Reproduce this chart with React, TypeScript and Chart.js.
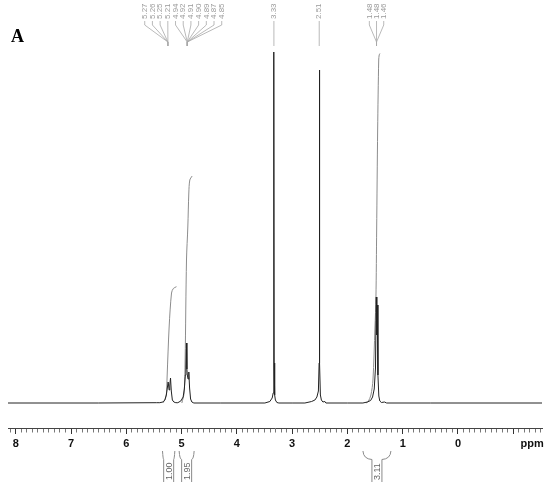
import React, { useEffect, useRef } from 'react';
import { Chart, registerables } from 'chart.js';

Chart.register(...registerables);

// ---- axis range (ppm, reversed) ----
const PPM_MAX = 8.14;
const PPM_MIN = -1.52;

// ---- spectrum, [ppm, intensity] ----
const baselineLeft: number[][] = [[8.14, 0], [6.5, 0], [5.45, 0.3]];
const peakH5: number[][] = [
  [5.394, 0.3], [5.339, 1], [5.303, 3], [5.276, 8], [5.258, 15], [5.243, 21],
  [5.225, 13], [5.213, 18], [5.2, 25], [5.186, 12], [5.167, 3], [5.14, 1], [5.104, 0.3],
];
const peakH4: number[][] = [
  [5.068, 0.3], [5.014, 2], [4.972, 6], [4.95, 14], [4.932, 28], [4.922, 36],
  [4.912, 60], [4.904, 34], [4.896, 28], [4.883, 24], [4.869, 31], [4.855, 15], [4.837, 4],
  [4.814, 1], [4.778, 0],
];
const baselineMid1: number[][] = [[4.3, 0], [3.6, 0]];
const peakWater: number[][] = [
  [3.493, 0], [3.403, 1.5], [3.361, 5], [3.343, 10], [3.334, 40], [3.33, 351],
  [3.325, 40], [3.316, 8], [3.303, 3], [3.276, 0.5], [3.24, 0],
];
const baselineMid2: number[][] = [[3.0, 0]];
const peakDmso: number[][] = [
  [2.769, 0], [2.648, 1.5], [2.588, 3], [2.552, 6], [2.525, 12], [2.512, 40],
  [2.507, 333], [2.501, 40], [2.489, 8], [2.471, 3], [2.443, 1], [2.407, 1.5], [2.389, 0],
];
const baselineMid3: number[][] = [[2.0, 0]];
const peakMe: number[][] = [
  [1.72, 0], [1.64, 1], [1.58, 2.5], [1.545, 6], [1.515, 14], [1.492, 35],
  [1.478, 106], [1.468, 68], [1.46, 98], [1.448, 28], [1.432, 7], [1.414, 2],
  [1.385, 0.5], [1.33, 1], [1.29, 0],
];
const baselineRight: number[][] = [[0.5, 0], [-1.52, 0]];

// ---- integral curves, [ppm, height] ----
const integral1: number[][] = [
  [5.339, 0], [5.294, 4], [5.273, 10], [5.262, 26], [5.225, 76], [5.182, 110],
  [5.149, 114.5], [5.092, 116.3],
];
const integral2: number[][] = [
  [4.995, 0], [4.954, 10], [4.936, 43], [4.911, 143], [4.887, 176], [4.869, 210],
  [4.851, 223], [4.809, 227],
];
const integral3: number[][] = [
  [1.665, 0], [1.624, 1.5], [1.575, 8], [1.538, 23], [1.502, 75], [1.484, 106],
  [1.471, 173], [1.453, 273], [1.434, 343], [1.425, 348], [1.412, 349.5],
];

// ---- peak labels (top) ----
const peakLabelsA: string[] = ['5.27', '5.26', '5.25', '5.21'];
const peakLabelsB: string[] = ['4.94', '4.92', '4.91', '4.90', '4.89', '4.87', '4.85'];
const peakLabelsC: string[] = ['3.33'];
const peakLabelsD: string[] = ['2.51'];
const peakLabelsE: string[] = ['1.48', '1.48', '1.46'];

// ---- integrals (bottom) ----
const integralRanges: number[][] = [[5.345, 5.122], [5.044, 4.773], [1.719, 1.213]];
const integralValues: string[] = ['1.00', '1.95', '3.11'];

const panelLetter = 'A';
const axisUnit = 'ppm';

const toXY = (arr: number[][]) => arr.map(([x, y]) => ({ x, y }));

const spectrum = [
  ...baselineLeft, ...peakH5, ...peakH4, ...baselineMid1, ...peakWater,
  ...baselineMid2, ...peakDmso, ...baselineMid3, ...peakMe, ...baselineRight,
];

const mean = (a: string[]) => a.reduce((s, v) => s + parseFloat(v), 0) / a.length;

const annotationPlugin = {
  id: 'nmrAnnotations',
  afterDraw(chart: any) {
    const ctx = chart.ctx as CanvasRenderingContext2D;
    const xs = chart.scales.x;
    const px = (v: number) => xs.getPixelForValue(v);
    ctx.save();

    // peak labels with connectors
    const clusters = [
      { groups: [peakLabelsA, peakLabelsB], spacing: 7.7, shift: 3 },
      { groups: [peakLabelsC], spacing: 7.5, shift: 0 },
      { groups: [peakLabelsD], spacing: 7.5, shift: 0 },
      { groups: [peakLabelsE], spacing: 7.2, shift: 0 },
    ];
    ctx.font = '8px "Liberation Sans", Arial, sans-serif';
    ctx.fillStyle = '#9a9a9a';
    ctx.strokeStyle = '#a8a8a8';
    ctx.lineWidth = 0.8;
    clusters.forEach((cl) => {
      const all = cl.groups.flat();
      const center = px(mean(all)) + cl.shift;
      const n = all.length;
      let idx = 0;
      cl.groups.forEach((g) => {
        const cx = px(mean(g));
        g.forEach((lab) => {
          const lx = center + (idx - (n - 1) / 2) * cl.spacing;
          idx++;
          ctx.save();
          ctx.translate(lx, 19);
          ctx.rotate(-Math.PI / 2);
          ctx.textAlign = 'left';
          ctx.textBaseline = 'middle';
          ctx.fillText(lab, 0, 0);
          ctx.restore();
          ctx.beginPath();
          ctx.moveTo(lx, 21);
          ctx.lineTo(lx, 25);
          ctx.lineTo(cx, 42);
          ctx.lineTo(cx, 46);
          ctx.stroke();
        });
      });
    });

    // integral brackets and values
    ctx.strokeStyle = '#8a8a8a';
    ctx.lineWidth = 1;
    ctx.fillStyle = '#666';
    ctx.font = '9px "Liberation Sans", Arial, sans-serif';
    integralRanges.forEach((r, i) => {
      const xl = px(r[0]);
      const xr = px(r[1]);
      const xc = (xl + xr) / 2;
      const hw = 5;
      ctx.beginPath();
      ctx.moveTo(xl, 451);
      ctx.quadraticCurveTo(xl + 0.5, 459, xc - hw, 459.5);
      ctx.lineTo(xc - hw, 482);
      ctx.moveTo(xr, 451);
      ctx.quadraticCurveTo(xr - 0.5, 459, xc + hw, 459.5);
      ctx.lineTo(xc + hw, 482);
      ctx.stroke();
      ctx.save();
      ctx.translate(xc + 0.5, 480);
      ctx.rotate(-Math.PI / 2);
      ctx.textAlign = 'left';
      ctx.textBaseline = 'middle';
      ctx.fillText(integralValues[i], 0, 0);
      ctx.restore();
    });

    // unit label
    ctx.fillStyle = '#111';
    ctx.font = 'bold 11px "Liberation Sans", Arial, sans-serif';
    ctx.textAlign = 'center';
    ctx.textBaseline = 'middle';
    ctx.fillText(axisUnit, px(-1.34), 444);

    // panel letter
    ctx.font = 'bold 18px "Liberation Serif", "Times New Roman", serif';
    ctx.textAlign = 'left';
    ctx.textBaseline = 'alphabetic';
    ctx.fillStyle = '#000';
    ctx.fillText(panelLetter, 11, 42);
    ctx.restore();
  },
};

const isMajor = (v: number) => Math.abs(v - Math.round(v)) < 1e-6;

export default function App() {
  const ref = useRef<HTMLCanvasElement>(null);
  useEffect(() => {
    if (!ref.current) return;
    const chart = new Chart(ref.current, {
      type: 'line',
      data: {
        datasets: [
          {
            data: toXY(spectrum),
            borderColor: '#222',
            borderWidth: 1,
            pointRadius: 0,
            tension: 0,
          },
          {
            data: toXY(integral1),
            borderColor: '#8c8c8c',
            borderWidth: 1,
            pointRadius: 0,
            tension: 0.3,
          },
          {
            data: toXY(integral2),
            borderColor: '#8c8c8c',
            borderWidth: 1,
            pointRadius: 0,
            tension: 0.3,
          },
          {
            data: toXY(integral3),
            borderColor: '#8c8c8c',
            borderWidth: 1,
            pointRadius: 0,
            tension: 0.3,
          },
        ],
      },
      options: {
        animation: false,
        responsive: false,
        events: [],
        layout: { padding: { left: 8, right: 8, top: 0, bottom: 0 } },
        plugins: { legend: { display: false }, tooltip: { enabled: false } },
        scales: {
          x: {
            type: 'linear',
            reverse: true,
            min: PPM_MIN,
            max: PPM_MAX,
            position: 'bottom',
            afterFit: (s: any) => {
              s.height = 62;
            },
            border: { display: true, color: '#444', width: 1 },
            grid: {
              drawOnChartArea: false,
              drawTicks: true,
              tickLength: 6,
              tickColor: (c: any) => (c.tick && isMajor(c.tick.value) ? '#333' : '#777'),
              tickBorderDash: (c: any) => (c.tick && isMajor(c.tick.value) ? [] : [3.5, 30]),
            } as any,
            ticks: {
              stepSize: 0.1,
              autoSkip: false,
              includeBounds: false,
              maxRotation: 0,
              minRotation: 0,
              padding: 3,
              color: '#111',
              font: { family: '"Liberation Sans", Arial, sans-serif', size: 11, weight: 'bold' },
              callback: (v: any) => {
                const n = Number(v);
                const r = Math.round(n);
                return isMajor(n) && r >= 0 ? String(r) : '';
              },
            } as any,
          },
          y: { display: false, min: -25, max: 403 },
        },
      },
      plugins: [annotationPlugin],
    } as any);
    return () => chart.destroy();
  }, []);
  return (
    <div style={{ position: 'absolute', left: 0, top: 0, width: 550, height: 490, background: '#fff' }}>
      <canvas ref={ref} width={550} height={490} />
    </div>
  );
}
